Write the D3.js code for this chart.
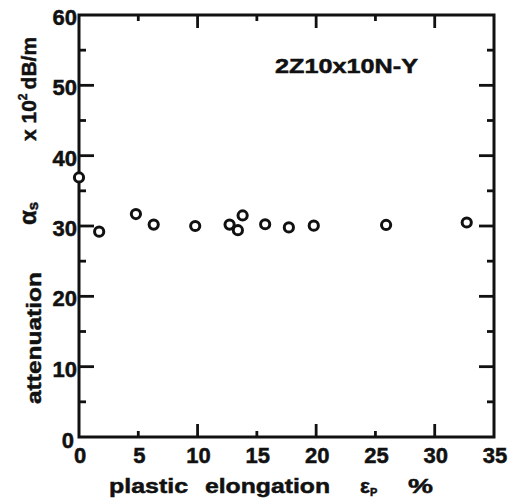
<!DOCTYPE html>
<html>
<head>
<meta charset="utf-8">
<script src="https://cdn.jsdelivr.net/npm/d3@7"></script>
<style>
  html, body { margin: 0; padding: 0; background: #fff; }
  svg { display: block; }
  text { font-family: "Liberation Sans", Arial, sans-serif; font-weight: bold; fill: #111; stroke: #111; stroke-width: 0.5px; }
</style>
</head>
<body>
<div id="chart"></div>
<script>
// values
const elongation = [0, 1.7, 4.8, 6.3, 9.8, 12.7, 13.4, 13.8, 15.7, 17.7, 19.8, 25.9, 32.7];
const attenuation = [36.9, 29.2, 31.7, 30.2, 30.0, 30.2, 29.4, 31.5, 30.25, 29.8, 30.05, 30.15, 30.5];

const xTickLabels = [0, 5, 10, 15, 20, 25, 30, 35];
const yTickLabels = [0, 10, 20, 30, 40, 50, 60];
const xMajor = [10, 20, 30];
const xMinor = [5, 15, 25];
const yMajor = [10, 20, 30, 40, 50];
const yMinor = [5, 15, 25, 35, 45, 55];

const sampleName = '2Z10x10N-Y';

const width = 525, height = 504;
const margin = { top: 15, right: 31, bottom: 67, left: 79 };

const svg = d3.select('#chart').append('svg')
    .attr('width', width)
    .attr('height', height);

const x = d3.scaleLinear().domain([0, 35]).range([margin.left, width - margin.right]);
const y = d3.scaleLinear().domain([0, 60]).range([height - margin.bottom, margin.top]);

const ink = '#111';

// frame
svg.append('rect')
    .attr('x', x(0)).attr('y', y(60))
    .attr('width', x(35) - x(0)).attr('height', y(0) - y(60))
    .attr('fill', 'none').attr('stroke', ink).attr('stroke-width', 3);

// inward ticks on all four sides, long for majors and short for minors
function tickLines(values, x1, x2, y1, y2) {
    svg.append('g').selectAll('line').data(values).join('line')
        .attr('x1', x1).attr('x2', x2)
        .attr('y1', y1).attr('y2', y2)
        .attr('stroke', ink)
        .attr('stroke-width', 2.8);
}
function xTicks(values, len) {
    tickLines(values, d => x(d), d => x(d), y(0), y(0) - len);
    tickLines(values, d => x(d), d => x(d), y(60), y(60) + len);
}
function yTicks(values, len) {
    tickLines(values, x(0), x(0) + len, d => y(d), d => y(d));
    tickLines(values, x(35), x(35) - len, d => y(d), d => y(d));
}
xTicks(xMajor, 13);
xTicks(xMinor, 6);
yTicks(yMajor, 15);
yTicks(yMinor, 7);

// tick labels
svg.append('g').selectAll('text').data(xTickLabels).join('text')
    .attr('x', d => x(d) + 1)
    .attr('y', y(0) + 26)
    .attr('text-anchor', 'middle')
    .style('font-size', '22px')
    .text(d => d);

svg.append('g').selectAll('text').data(yTickLabels).join('text')
    .attr('x', d => d === 0 ? x(0) - 5 : x(0) - 2)
    .attr('y', d => d === 0 ? y(d) + 11 : y(d) + 10)
    .attr('text-anchor', 'end')
    .style('font-size', '22px')
    .text(d => d);

// data points
svg.append('g').selectAll('circle')
    .data(elongation.map((e, i) => [e, attenuation[i]]))
    .join('circle')
    .attr('cx', d => x(d[0]))
    .attr('cy', d => y(d[1]))
    .attr('r', 4.6)
    .attr('fill', '#fff')
    .attr('stroke', ink)
    .attr('stroke-width', 3);

// sample label
svg.append('text')
    .attr('x', 275).attr('y', 73)
    .attr('textLength', 143).attr('lengthAdjust', 'spacingAndGlyphs')
    .style('font-size', '21px')
    .text(sampleName);

// x axis title
const xt = svg.append('g').attr('transform', 'translate(0,493)').style('font-size', '21px');
xt.append('text').attr('x', 109).attr('textLength', 79).attr('lengthAdjust', 'spacingAndGlyphs').text('plastic');
xt.append('text').attr('x', 205).attr('textLength', 125).attr('lengthAdjust', 'spacingAndGlyphs').text('elongation');
const eps = xt.append('text').attr('x', 360);
eps.append('tspan').text('ε');
eps.append('tspan').attr('dy', 3).style('font-size', '11px').text('P');
xt.append('text').attr('x', 408).attr('textLength', 25).attr('lengthAdjust', 'spacingAndGlyphs').text('%');

// y axis title, rotated
const yt = svg.append('g').style('font-size', '21px');
yt.append('text')
    .attr('transform', 'translate(41,404) rotate(-90)')
    .attr('textLength', 132).attr('lengthAdjust', 'spacingAndGlyphs')
    .text('attenuation');
const alpha = yt.append('text').attr('transform', 'translate(36,225) rotate(-90)');
alpha.append('tspan').style('font-size', '24px').text('α');
alpha.append('tspan').attr('dy', 2).style('font-size', '15px').text('s');
const unit = yt.append('text').attr('transform', 'translate(36,141) rotate(-90)');
unit.append('tspan').text('x 10');
unit.append('tspan').attr('dy', -9).style('font-size', '12px').text('2');
unit.append('tspan').attr('dy', 9).attr('dx', 4).text('dB/m');
</script>
</body>
</html>
